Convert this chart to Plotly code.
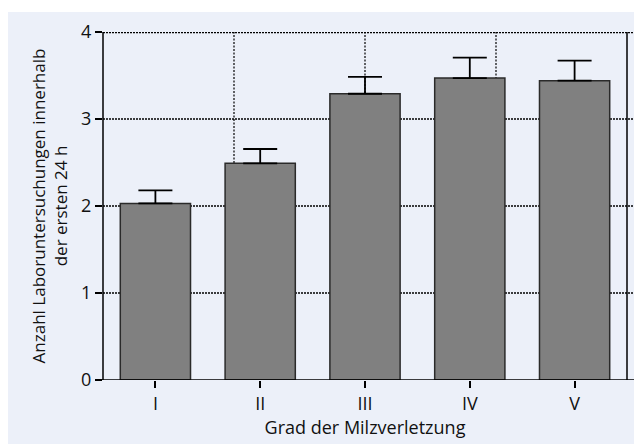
import plotly.graph_objects as go

categories = ["I", "II", "III", "IV", "V"]
means = [2.03, 2.49, 3.29, 3.47, 3.44]
err_upper = [0.15, 0.165, 0.195, 0.235, 0.23]
y_ticks = [0, 1, 2, 3, 4]

BG = "#ECF0F9"
# the page body adds an 8 px offset, so the figure is 8 px smaller each way
W, H = 634, 436
L, R, T, B = 95, 15, 24, 64
pw = W - L - R
ph = H - T - B
ymax = 4.0
px_per_unit = ph / ymax

fig = go.Figure()
fig.add_trace(go.Bar(
    x=list(range(len(categories))), y=means, width=0.67,
    marker=dict(color="#808080", line=dict(color="#2a2a2a", width=1.5)),
    error_y=dict(type="data", symmetric=False, array=err_upper,
                 arrayminus=[0] * len(means), color="black", thickness=1.8, width=17),
))

shapes = []
shapes.append(dict(type="rect", xref="paper", yref="paper",
                   x0=-L / pw, x1=(W - L) / pw, y0=1 + (T - 4) / ph, y1=1 + T / ph + 0.01,
                   fillcolor="white", line=dict(width=0), layer="below"))

ext_top = ymax + 8 / px_per_unit
x_right_ext = 1 + 7 / pw
for v in y_ticks[1:]:
    shapes.append(dict(type="line", xref="paper", yref="y", x0=0, x1=x_right_ext,
                       y0=v, y1=v, layer="below",
                       line=dict(color="black", width=2.5 if v == 4 else 1.3,
                                 dash="2px,1px")))
for fx in [0.25, 0.5, 0.75]:
    shapes.append(dict(type="line", xref="paper", yref="y", x0=fx, x1=fx,
                       y0=0, y1=ext_top, layer="below",
                       line=dict(color="black", width=1.2, dash="2px,1.5px")))
shapes.append(dict(type="line", xref="paper", yref="y", x0=1, x1=1, y0=0, y1=ext_top,
                   layer="below", line=dict(color="black", width=1.5)))
shapes.append(dict(type="line", xref="paper", yref="y", x0=0, x1=0, y0=0, y1=ext_top,
                   layer="above", line=dict(color="black", width=1.5)))
shapes.append(dict(type="line", xref="paper", yref="y", x0=-7 / pw, x1=x_right_ext,
                   y0=0, y1=0, layer="above", line=dict(color="black", width=1.5)))

font = "Open Sans"
fig.update_layout(
    width=W, height=H,
    margin=dict(l=L, r=R, t=T, b=B, pad=0, autoexpand=False),
    paper_bgcolor=BG, plot_bgcolor=BG,
    showlegend=False,
    shapes=shapes,
    font=dict(family=font, size=18, color="#111111"),
    xaxis=dict(range=[-0.5, 4.5], tickvals=list(range(len(categories))),
               ticktext=categories, ticks="outside", ticklen=7, tickwidth=1.5,
               tickcolor="black", showgrid=False, zeroline=False, showline=False,
               automargin=False, tickfont=dict(family=font, size=18),
               title=dict(text="Grad der Milzverletzung", standoff=5,
                          font=dict(family=font, size=18))),
    yaxis=dict(range=[0, ymax], tickvals=y_ticks, ticks="outside", ticklen=7,
               tickwidth=1.5, tickcolor="black", showgrid=False, zeroline=False,
               showline=False, automargin=False, tickfont=dict(family=font, size=18),
               title=dict(text="Anzahl Laboruntersuchungen innerhalb<br>der ersten 24 h",
                          standoff=9, font=dict(family=font, size=17))),
)
fig.write_html("out.html")
